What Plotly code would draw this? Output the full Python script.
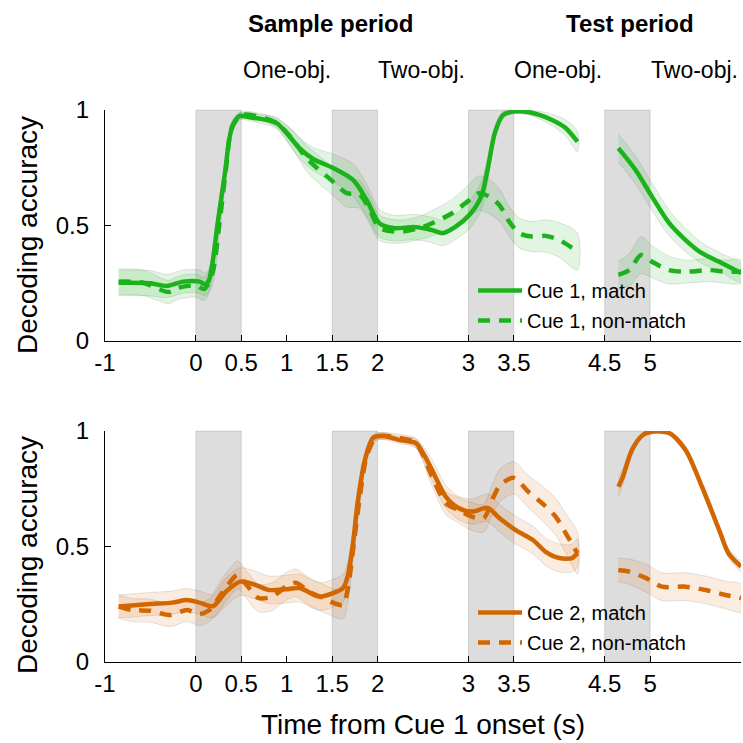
import plotly.graph_objects as go

# ---------------- data ----------------
PERIODS = [(0, 0.5), (1.5, 2.0), (3.0, 3.5), (4.5, 5.0)]
XTICKS = [-1, 0, 0.5, 1, 1.5, 2, 3, 3.5, 4.5, 5]
XTICKTEXT = ["-1", "0", "0.5", "1", "1.5", "2", "3", "3.5", "4.5", "5"]
YTICKS = [0, 0.5, 1]
YTICKTEXT = ["0", "0.5", "1"]

c1_match_t = [-0.85, -0.5, -0.32, -0.14, 0.04, 0.1, 0.14, 0.18, 0.24, 0.32, 0.39, 0.48, 0.59, 0.78, 0.89, 1.0,
              1.14, 1.29, 1.51, 1.73, 1.88, 2.02, 2.17, 2.42, 2.6, 2.72, 2.86, 3.01, 3.14, 3.21, 3.29, 3.38,
              3.49, 3.67, 3.92, 4.07, 4.2, None, 4.65, 4.84, 5.02, 5.21, 5.39, 5.57, 5.76, 6.0]
c1_match_y = [0.252, 0.25, 0.238, 0.257, 0.257, 0.245, 0.26, 0.33, 0.51, 0.727, 0.913, 0.974, 0.968, 0.957, 0.943,
              0.9, 0.835, 0.788, 0.749, 0.697, 0.61, 0.51, 0.489, 0.493, 0.48, 0.467, 0.495, 0.545, 0.625, 0.74,
              0.9, 0.978, 0.993, 0.99, 0.957, 0.922, 0.863, None, 0.835, 0.74, 0.625, 0.51, 0.437, 0.38, 0.343,
              0.294]
c1_match_ci = [0.055, 0.055, 0.05, 0.05, 0.05, 0.05, 0.05, 0.05, 0.05, 0.04, 0.025, 0.015, 0.015, 0.02, 0.025,
               0.035, 0.045, 0.05, 0.06, 0.07, 0.07, 0.06, 0.055, 0.055, 0.055, 0.055, 0.055, 0.06, 0.06, 0.05,
               0.03, 0.015, 0.01, 0.012, 0.025, 0.035, 0.045, None, 0.06, 0.06, 0.06, 0.055, 0.05, 0.045, 0.04,
               0.04]

c1_nonmatch_t = [-0.85, -0.58, -0.3, -0.2, 0.0, 0.09, 0.18, 0.26, 0.33, 0.4, 0.51, 0.71, 0.89, 1.07, 1.22, 1.33,
                 1.51, 1.66, 1.8, 1.91, 2.02, 2.24, 2.46, 2.6, 2.82, 3.01, 3.12, 3.23, 3.34, 3.45, 3.56, 3.7,
                 3.85, 4.0, 4.2, None, 4.65, 4.77, 4.9, 5.02, 5.21, 5.39, 5.65, 5.83, 6.0]
c1_nonmatch_y = [0.257, 0.252, 0.212, 0.23, 0.24, 0.225, 0.29, 0.51, 0.74, 0.93, 0.978, 0.97, 0.943, 0.87, 0.79,
                 0.75, 0.69, 0.64, 0.635, 0.57, 0.49, 0.473, 0.489, 0.51, 0.553, 0.61, 0.64, 0.625, 0.589, 0.516,
                 0.467, 0.452, 0.455, 0.437, 0.387, None, 0.286, 0.307, 0.372, 0.343, 0.307, 0.3, 0.307, 0.3, 0.3]
c1_nonmatch_ci = [0.055, 0.055, 0.05, 0.05, 0.05, 0.05, 0.05, 0.05, 0.04, 0.025, 0.015, 0.015, 0.02, 0.04,
                  0.055, 0.06, 0.06, 0.06, 0.06, 0.06, 0.055, 0.05, 0.05, 0.055, 0.06, 0.07, 0.075, 0.075, 0.07,
                  0.065, 0.065, 0.065, 0.07, 0.075, 0.08, None, 0.06, 0.07, 0.08, 0.07, 0.06, 0.05, 0.05, 0.05,
                  0.05]

c2_match_t = [-0.85, -0.5, -0.26, -0.1, 0.04, 0.19, 0.33, 0.49, 0.66, 0.8, 0.99, 1.14, 1.36, 1.51, 1.62, 1.67,
              1.73, 1.78, 1.86, 1.95, 2.06, 2.24, 2.42, 2.5, 2.6, 2.75, 2.89, 3.04, 3.21, 3.34, 3.52, 3.71, 3.85,
              4.0, 4.14, 4.2, None, 4.65, 4.7, 4.8, 4.92, 5.02, 5.21, 5.39, 5.57, 5.76, 5.86, 6.0]
c2_match_y = [0.24, 0.251, 0.257, 0.268, 0.257, 0.242, 0.304, 0.348, 0.333, 0.312, 0.315, 0.32, 0.283, 0.298,
              0.32, 0.37, 0.515, 0.688, 0.874, 0.97, 0.978, 0.961, 0.948, 0.905, 0.831, 0.716, 0.667, 0.651,
              0.667, 0.623, 0.571, 0.528, 0.477, 0.45, 0.45, 0.472, None, 0.759, 0.802, 0.918, 0.983, 0.997,
              0.991, 0.918, 0.759, 0.571, 0.472, 0.413]
c2_match_ci = [0.05, 0.05, 0.05, 0.05, 0.05, 0.05, 0.06, 0.06, 0.06, 0.06, 0.06, 0.06, 0.06, 0.06, 0.06, 0.06,
               0.05, 0.04, 0.02, 0.015, 0.015, 0.015, 0.02, 0.03, 0.045, 0.05, 0.05, 0.055, 0.06, 0.06, 0.06,
               0.06, 0.06, 0.06, 0.06, 0.06, None, 0.04, 0.035, 0.02, 0.01, 0.008, 0.01, 0.015, 0.02, 0.02, 0.02,
               0.02]

c2_nonmatch_t = [-0.85, -0.7, -0.5, -0.28, -0.1, 0.04, 0.15, 0.26, 0.35, 0.46, 0.56, 0.69, 0.84, 0.99, 1.1, 1.25,
                 1.4, 1.51, 1.62, 1.67, 1.73, 1.8, 1.88, 1.99, 2.24, 2.42, 2.6, 2.75, 2.89, 3.04, 3.17, 3.26, 3.35,
                 3.5, 3.66, 3.81, 3.96, 4.07, 4.2, None, 4.65, 4.77, 4.95, 5.13, 5.39, 5.61, 5.83, 6.0]
c2_nonmatch_y = [0.24, 0.225, 0.222, 0.203, 0.225, 0.208, 0.225, 0.283, 0.333, 0.377, 0.333, 0.277, 0.283, 0.326,
                 0.343, 0.304, 0.277, 0.257, 0.247, 0.312, 0.485, 0.701, 0.889, 0.975, 0.97, 0.948, 0.802, 0.688,
                 0.658, 0.629, 0.623, 0.701, 0.766, 0.797, 0.737, 0.688, 0.629, 0.558, 0.47, None, 0.398, 0.391,
                 0.364, 0.326, 0.326, 0.312, 0.29, 0.277]
c2_nonmatch_ci = [0.05, 0.05, 0.05, 0.05, 0.05, 0.05, 0.05, 0.06, 0.06, 0.06, 0.06, 0.06, 0.06, 0.06, 0.06, 0.06,
                  0.06, 0.06, 0.06, 0.06, 0.05, 0.04, 0.02, 0.015, 0.015, 0.02, 0.04, 0.05, 0.055, 0.06, 0.06,
                  0.065, 0.07, 0.07, 0.07, 0.075, 0.08, 0.085, 0.09, None, 0.05, 0.055, 0.06, 0.06, 0.06, 0.06,
                  0.06, 0.06]

# ---------------- style ----------------
W, H = 743, 743
ML, MR, MT, MB = 105, 2, 110, 81
PW, PH = W - ML - MR, H - MT - MB
FONT = "Liberation Sans, Arial, Helvetica, sans-serif"
GREEN = "rgb(28,178,28)"
GREEN_FILL = "rgba(28,178,28,0.13)"
ORANGE = "rgb(210,102,0)"
ORANGE_FILL = "rgba(210,102,0,0.12)"
EDGE = "rgba(90,90,90,0.2)"


def px_x(p):
    return (p - ML) / PW


def px_y(p):
    return (H - MB - p) / PH


def segments(t, y, c):
    segs, cur = [], ([], [], [])
    for a, b, d in zip(t, y, c):
        if a is None:
            if cur[0]:
                segs.append(cur)
            cur = ([], [], [])
        else:
            cur[0].append(a); cur[1].append(b); cur[2].append(d)
    if cur[0]:
        segs.append(cur)
    return segs


series = [
    (c1_match_t, c1_match_y, c1_match_ci, GREEN, GREEN_FILL, "solid", "Cue 1, match", "x", "y", "legend"),
    (c1_nonmatch_t, c1_nonmatch_y, c1_nonmatch_ci, GREEN, GREEN_FILL, "12px,9px", "Cue 1, non-match", "x", "y", "legend"),
    (c2_match_t, c2_match_y, c2_match_ci, ORANGE, ORANGE_FILL, "solid", "Cue 2, match", "x2", "y2", "legend2"),
    (c2_nonmatch_t, c2_nonmatch_y, c2_nonmatch_ci, ORANGE, ORANGE_FILL, "12px,9px", "Cue 2, non-match", "x2", "y2", "legend2"),
]

fig = go.Figure()

# confidence bands
for t, y, c, col, fcol, dash, name, xa, ya, leg in series:
    for st, sy, sc in segments(t, y, c):
        up = [a + b for a, b in zip(sy, sc)]
        lo = [a - b for a, b in zip(sy, sc)]
        fig.add_trace(go.Scatter(
            x=st + st[::-1], y=up + lo[::-1], mode="lines", fill="toself", fillcolor=fcol,
            line=dict(color=EDGE, width=0.8, shape="spline", smoothing=0.8),
            hoverinfo="skip", showlegend=False, xaxis=xa, yaxis=ya))

# mean lines
for i, (t, y, c, col, fcol, dash, name, xa, ya, leg) in enumerate(series):
    fig.add_trace(go.Scatter(
        x=t, y=y, mode="lines", name=name, connectgaps=False,
        line=dict(color=col, width=4.5, dash=dash, shape="spline", smoothing=0.8),
        xaxis=xa, yaxis=ya, legend=leg, legendgroup=name))

# stimulus periods
shapes = []
for ya in ["y", "y2"]:
    xa = "x" if ya == "y" else "x2"
    for a, b in PERIODS:
        shapes.append(dict(type="rect", xref=xa, yref=ya + " domain", x0=a, x1=b, y0=0, y1=1,
                           fillcolor="#DDDDDD", line=dict(color="rgba(0,0,0,0.12)", width=1),
                           layer="below"))

axis_common = dict(showline=True, linecolor="black", linewidth=1.3, ticks="inside", ticklen=6,
                   tickcolor="black", tickwidth=1, showgrid=False, zeroline=False,
                   tickfont=dict(family=FONT, size=24, color="black"))

xcommon = dict(axis_common, range=[-1, 6], tickvals=XTICKS, ticktext=XTICKTEXT, ticklabelstandoff=0)
ycommon = dict(axis_common, range=[0, 1], tickvals=YTICKS, ticktext=YTICKTEXT, ticklabelstandoff=10)

top_y0 = px_y(341)
bot_y1 = px_y(431)


def label(text, cx, cy, size, angle=0):
    return dict(text=text, x=px_x(cx), y=px_y(cy), xref="paper", yref="paper", xanchor="center",
                yanchor="middle", textangle=angle, showarrow=False,
                font=dict(family=FONT, size=size, color="black"))


ann = [label("<b>Sample period</b>", 330, 23, 24), label("<b>Test period</b>", 630, 23, 24)]
for cx, txt in [(287, "One-obj."), (421, "Two-obj."), (558, "One-obj."), (694, "Two-obj.")]:
    ann.append(label(txt, cx, 70, 23))
for cy in [235, 555]:
    ann.append(label("Decoding accuracy", 27, cy, 28, -90))
ann.append(label("Time from Cue 1 onset (s)", 423, 724, 28))

legend_common = dict(xanchor="left", yanchor="top", bgcolor="rgba(0,0,0,0)", borderwidth=0,
                     font=dict(family=FONT, size=20, color="black"), itemwidth=44,
                     tracegroupgap=1, traceorder="grouped")

fig.update_layout(
    width=W, height=H, margin=dict(l=ML, r=MR, t=MT, b=MB, autoexpand=False),
    paper_bgcolor="white", plot_bgcolor="white",
    xaxis=dict(xcommon, domain=[0, 1], anchor="y"),
    yaxis=dict(ycommon, domain=[top_y0, 1], anchor="x"),
    xaxis2=dict(xcommon, domain=[0, 1], anchor="y2"),
    yaxis2=dict(ycommon, domain=[0, bot_y1], anchor="x2"),
    shapes=shapes, annotations=ann,
    legend=dict(legend_common, x=px_x(473), y=px_y(271)),
    legend2=dict(legend_common, x=px_x(473), y=px_y(593)),
    showlegend=True,
)

fig.write_html("out.html")
